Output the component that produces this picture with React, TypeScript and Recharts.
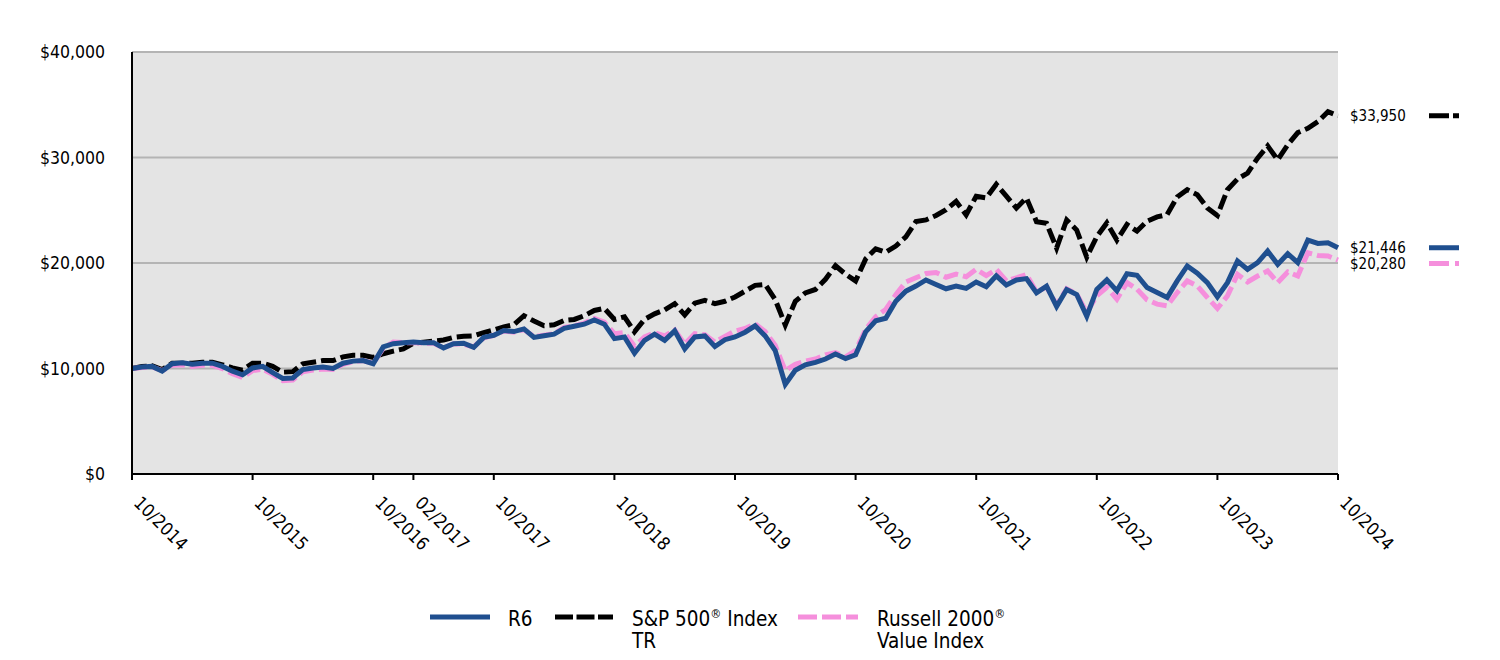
import React from 'react';
import { LineChart, Line, XAxis, YAxis, CartesianGrid } from 'recharts';

// monthly growth of $10,000, 10/2014 - 10/2024
const r6Values = [
  10000, 10150, 10200, 9750, 10450, 10550, 10400, 10500, 10500, 10200, 9750, 9400,
  10050, 10200, 9600, 9050, 9100, 9900, 10050, 10150, 10000, 10500, 10700, 10750,
  10450, 12050, 12350, 12450, 12500, 12450, 12450, 11950, 12350, 12400, 12000, 12950,
  13150, 13600, 13500, 13750, 12950, 13100, 13250, 13800, 14000, 14200, 14600, 14200,
  12830, 12990, 11450, 12670, 13250, 12670, 13570, 11860, 12990, 13090, 12090, 12730,
  12990, 13440, 14050, 13090, 11700, 8500, 9840, 10350, 10580, 10900, 11380, 10950,
  11300, 13470, 14530, 14760, 16370, 17330, 17810, 18390, 17970, 17560, 17810, 17590,
  18200, 17750, 18780, 17910, 18390, 18520, 17170, 17810, 15880, 17490, 17010, 14950,
  17500, 18400, 17360, 18990, 18840, 17670, 17200, 16730, 18300, 19720, 19030, 18140,
  16790, 18140, 20190, 19400, 20030, 21130, 19870, 20880, 20030, 22170, 21860, 21920,
  21446,
];

const sp500Values = [
  10000, 10200, 10250, 9900, 10500, 10500, 10500, 10600, 10600, 10350, 10050, 9850,
  10500, 10500, 10200, 9650, 9700, 10450, 10600, 10750, 10750, 11100, 11250, 11250,
  11050, 11400, 11650, 11850, 12400, 12500, 12600, 12700, 12950, 13050, 13100, 13400,
  13650, 13950, 14150, 15000, 14500, 14050, 14150, 14550, 14650, 15000, 15500, 15700,
  14650, 14900, 13470, 14660, 15180, 15560, 16140, 15080, 16200, 16460, 16140, 16370,
  16780, 17330, 17880, 17970, 16530, 14120, 16370, 17170, 17490, 18460, 19740, 18940,
  18300, 20390, 21350, 21030, 21610, 22480, 23920, 24080, 24500, 25050, 25850, 24570,
  26330, 26170, 27460, 26330, 25210, 26170, 23920, 23760, 21410, 24080, 23120, 20550,
  22500, 23800, 22170, 23650, 23020, 23960, 24370, 24590, 26260, 26950, 26480, 25220,
  24500, 26950, 27960, 28520, 29940, 31100, 29780, 31200, 32360, 32770, 33400, 34340,
  33950,
];

const russellValues = [
  10000, 10100, 10150, 9800, 10300, 10350, 10200, 10300, 10300, 10000, 9500, 9150,
  9800, 9950, 9450, 8850, 8900, 9700, 9850, 9950, 9900, 10400, 10650, 10750,
  10500, 11900, 12500, 12450, 12450, 12400, 12400, 11950, 12350, 12300, 12050, 12900,
  13150, 13550, 13450, 13700, 13000, 13150, 13300, 13900, 14050, 14300, 14750, 14400,
  13300, 13400, 12100, 13000, 13400, 13100, 13650, 12300, 13300, 13200, 12500, 13050,
  13550, 13800, 14250, 13500, 12200, 9800, 10400, 10700, 10900, 11300, 11500, 11100,
  11700, 13700, 14900, 15600, 17000, 18200, 18600, 19000, 19100, 18650, 18950, 18700,
  19400, 18800, 19400, 18300, 18600, 18900, 17250, 17750, 16000, 17550, 17050, 15300,
  16900, 17700, 16570, 18140, 17520, 16510, 16100, 15940, 17200, 18300, 17830, 16730,
  15690, 16890, 18930, 18210, 18770, 19250, 18140, 19150, 18770, 20970, 20720, 20660,
  20280,
];

const tickLabels = [
  '10/2014', '10/2015', '10/2016', '02/2017', '10/2017', '10/2018',
  '10/2019', '10/2020', '10/2021', '10/2022', '10/2023', '10/2024',
];

const yTicks = [0, 10000, 20000, 30000, 40000];

const FONT = '"DejaVu Sans Condensed", "DejaVu Sans", sans-serif';
const BLUE = '#1f4f8f';
const PINK = '#f58fdc';

// month labels, starting 10/2014
const months = r6Values.map((_, i) => {
  const m = ((9 + i) % 12) + 1;
  const yr = 2014 + Math.floor((9 + i) / 12);
  return `${String(m).padStart(2, '0')}/${yr}`;
});

const data = months.map((month, i) => ({
  month,
  r6: r6Values[i],
  sp500: sp500Values[i],
  russell: russellValues[i],
}));

const money = (v: number) => `$${v.toLocaleString('en-US')}`;

const XTick = ({ x, y, payload }: any) => (
  <g transform={`translate(${x},${y})`}>
    <text transform="rotate(45)" x={16} y={15} textAnchor="start" fontSize={18} fill="#000" fontFamily={FONT}>
      {payload.value}
    </text>
  </g>
);

// value + small line sample to the right of the last point
const endLabel = (color: string, dash: string | undefined, shift: number) => (props: any) => {
  const { x, y, index, value } = props;
  if (index !== data.length - 1) return null;
  const cy = y + shift;
  return (
    <g>
      <text x={x + 12} y={cy} dy="0.35em" fontSize={15} fill="#000" fontFamily={FONT}>
        {money(value)}
      </text>
      <line x1={x + 91} x2={x + 121} y1={cy} y2={cy} stroke={color} strokeWidth={5} strokeDasharray={dash} />
    </g>
  );
};

const sup = <sup style={{ fontSize: '0.6em', lineHeight: 0 }}>®</sup>;

const LegendRow = () => (
  <div style={{ position: 'absolute', top: 0, left: 0, width: 1500, height: 660, fontFamily: FONT, fontSize: 20.5, lineHeight: '22px', pointerEvents: 'none' }}>
    <svg width={1500} height={660} style={{ position: 'absolute', left: 0, top: 0 }}>
      <line x1={430} x2={490} y1={617} y2={617} stroke={BLUE} strokeWidth={5} />
      <line x1={555} x2={613} y1={617} y2={617} stroke="#000" strokeWidth={5} strokeDasharray="18 3.5" />
      <line x1={798} x2={858} y1={617} y2={617} stroke={PINK} strokeWidth={5} strokeDasharray="19 5" />
    </svg>
    <div style={{ position: 'absolute', left: 508, top: 608 }}>R6</div>
    <div style={{ position: 'absolute', left: 632, top: 608 }}>
      S&amp;P 500{sup} Index<br />TR
    </div>
    <div style={{ position: 'absolute', left: 877, top: 608 }}>
      Russell 2000{sup}<br />Value Index
    </div>
  </div>
);

export default function App() {
  return (
    <div style={{ position: 'absolute', left: 0, top: 0, width: 1500, height: 660, background: '#fff' }}>
      <LineChart width={1500} height={660} data={data} margin={{ top: 52, right: 162, bottom: 86, left: 0 }}>
        <CartesianGrid vertical={false} fill="#e4e4e4" stroke="#b4b4b4" strokeWidth={2} />
        <XAxis
          dataKey="month"
          ticks={tickLabels}
          interval={0}
          height={100}
          tick={<XTick />}
          tickSize={6}
          tickLine={{ stroke: '#000', strokeWidth: 2 }}
          axisLine={{ stroke: '#000', strokeWidth: 2 }}
        />
        <YAxis
          domain={[0, 40000]}
          ticks={yTicks}
          width={132}
          tickFormatter={money}
          tickLine={false}
          tickSize={0}
          tickMargin={27}
          axisLine={{ stroke: '#000', strokeWidth: 2 }}
          tick={{ fontSize: 17.5, fill: '#000', fontFamily: FONT }}
        />
        <Line dataKey="sp500" stroke="#000" strokeWidth={5} strokeDasharray="15 5" dot={false}
          isAnimationActive={false} label={endLabel('#000', '20 4', 0)} />
        <Line dataKey="russell" stroke={PINK} strokeWidth={5} strokeDasharray="15 5" dot={false}
          isAnimationActive={false} label={endLabel(PINK, '20 6', 3.5)} />
        <Line dataKey="r6" stroke={BLUE} strokeWidth={5} dot={false}
          isAnimationActive={false} label={endLabel(BLUE, undefined, 0)} />
      </LineChart>
      <LegendRow />
    </div>
  );
}
